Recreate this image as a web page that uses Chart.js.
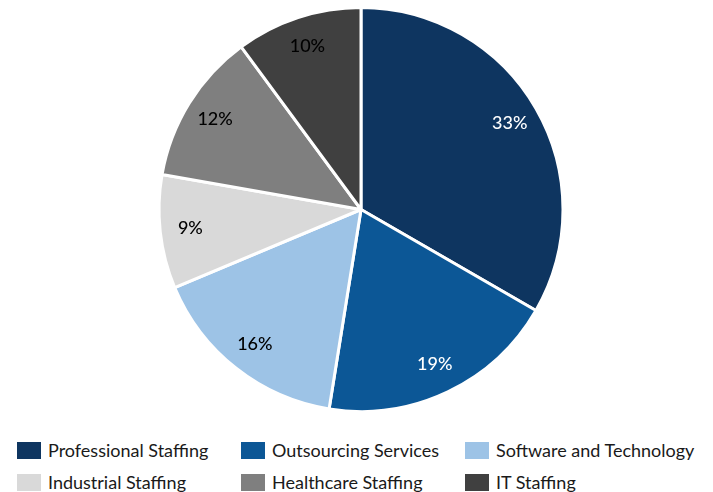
<!DOCTYPE html>
<html>
<head>
<meta charset="utf-8">
<script src="https://cdn.jsdelivr.net/npm/chart.js@4/dist/chart.umd.min.js"></script>
<style>
  html, body { margin: 0; padding: 0; background: #fff; }
  #wrap { position: relative; width: 713px; height: 492px; font-family: Lato, sans-serif; }
  #chart-box { position: absolute; left: 0; top: 0; width: 713px; height: 420px; }
  #legend { position: absolute; left: 17px; top: 439px; display: grid;
            grid-template-columns: 224px 224px 224px; grid-auto-rows: 32px; }
  .item { display: flex; align-items: center; height: 22px; font-size: 18px; color: #1a1a1a; white-space: nowrap; }
  .box { width: 24px; height: 17px; margin-right: 7px; flex: none; }
</style>
</head>
<body>
<div id="wrap">
  <div id="chart-box"><canvas id="pie"></canvas></div>
  <div id="legend"></div>
</div>
<script>
const categories = ['Professional Staffing', 'Outsourcing Services', 'Software and Technology',
                    'Industrial Staffing', 'Healthcare Staffing', 'IT Staffing'];
const shares = [33, 19, 16, 9, 12, 10];
const colors = ['#0e3560', '#0c5796', '#9dc3e6', '#d9d9d9', '#7f7f7f', '#404040'];
const labelColors = ['#ffffff', '#ffffff', '#000000', '#000000', '#000000', '#000000'];

// writes the percentage inside each slice, near the rim
const sliceLabels = {
    id: 'sliceLabels',
    afterDatasetsDraw(chart) {
        const ctx = chart.ctx;
        const meta = chart.getDatasetMeta(0);
        ctx.save();
        ctx.font = '500 18px Lato, sans-serif';
        ctx.textAlign = 'center';
        ctx.textBaseline = 'middle';
        meta.data.forEach((arc, i) => {
            const p = arc.getProps(['x', 'y', 'startAngle', 'endAngle', 'outerRadius'], true);
            const mid = (p.startAngle + p.endAngle) / 2;
            const r = p.outerRadius * 0.85;
            ctx.fillStyle = labelColors[i];
            ctx.fillText(shares[i] + '%', p.x + Math.cos(mid) * r, p.y + Math.sin(mid) * r);
        });
        ctx.restore();
    }
};

new Chart(document.getElementById('pie'), {
    type: 'pie',
    data: {
        labels: categories,
        datasets: [{
            data: shares,
            backgroundColor: colors,
            borderColor: '#ffffff',
            borderWidth: 3
        }]
    },
    options: {
        responsive: true,
        maintainAspectRatio: false,
        animation: false,
        layout: { padding: { top: 6, bottom: 7, left: 9, right: 0 } },
        plugins: {
            legend: { display: false },
            tooltip: { enabled: false }
        }
    },
    plugins: [sliceLabels]
});

// legend in a 3-column grid
const legend = document.getElementById('legend');
categories.forEach((name, i) => {
    const item = document.createElement('div');
    item.className = 'item';
    const box = document.createElement('span');
    box.className = 'box';
    box.style.background = colors[i];
    const txt = document.createElement('span');
    txt.textContent = name;
    item.appendChild(box);
    item.appendChild(txt);
    legend.appendChild(item);
});
</script>
</body>
</html>
